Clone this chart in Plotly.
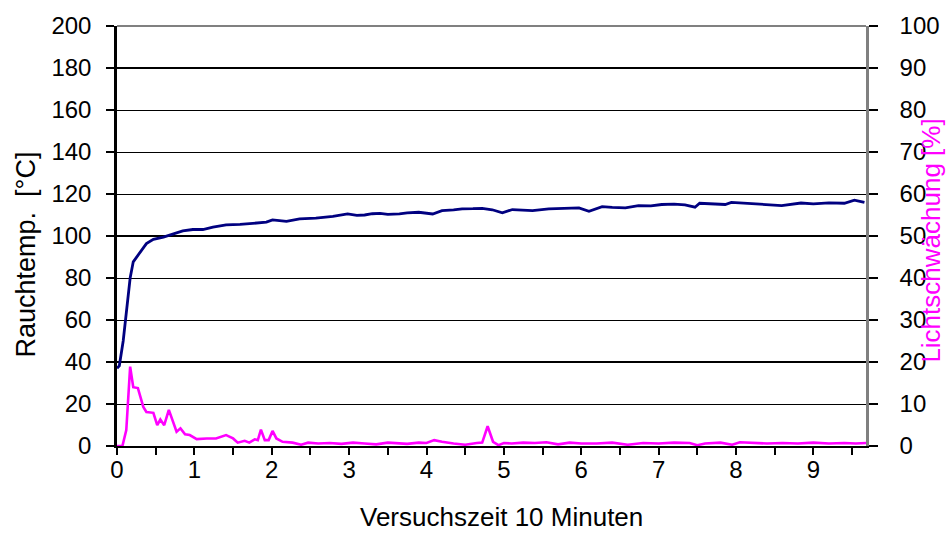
import plotly.graph_objects as go

# ---- data ----
t_temp = [0.0, 0.03, 0.08, 0.125, 0.17, 0.21, 0.30, 0.38, 0.47, 0.60, 0.73, 0.85, 0.98,
          1.11, 1.24, 1.41, 1.59, 1.80, 1.93, 2.01, 2.19, 2.36, 2.57, 2.79, 2.98, 3.1,
          3.2, 3.3, 3.4, 3.5, 3.65, 3.75, 3.9, 4.08, 4.2, 4.35, 4.46, 4.6, 4.72, 4.85,
          4.98, 5.11, 5.25, 5.37, 5.58, 5.8, 5.97, 6.1, 6.27, 6.4, 6.57, 6.74, 6.9,
          7.04, 7.2, 7.34, 7.47, 7.53, 7.86, 7.94, 8.1, 8.29, 8.45, 8.59, 8.84, 9.0,
          9.2, 9.40, 9.53, 9.66]
temp = [37.0, 38.2, 50.0, 65.7, 80.0, 87.7, 92.5, 96.4, 98.4, 99.5, 101.0, 102.4, 103.1,
        103.1, 104.2, 105.3, 105.5, 106.3, 106.6, 107.7, 107.0, 108.2, 108.5, 109.3, 110.5, 109.8,
        110.0, 110.6, 110.8, 110.3, 110.5, 111.0, 111.3, 110.5, 112.1, 112.4, 112.9, 113.0, 113.2, 112.5,
        111.0, 112.6, 112.4, 112.1, 112.9, 113.2, 113.4, 111.8, 114.0, 113.6, 113.4, 114.5, 114.3,
        115.0, 115.2, 114.8, 113.7, 115.6, 115.0, 116.0, 115.6, 115.2, 115.0, 114.5, 115.7, 115.3,
        115.8, 115.6, 117.1, 116.0]

t_ls = [0, 0.07, 0.12, 0.17, 0.21, 0.27, 0.34, 0.38, 0.47, 0.52, 0.56, 0.61, 0.67, 0.73,
        0.77, 0.82, 0.88, 0.94, 1.03, 1.16, 1.28, 1.41, 1.50, 1.56, 1.65, 1.71, 1.78, 1.82,
        1.86, 1.91, 1.96, 2.01, 2.06, 2.14, 2.27, 2.38, 2.47, 2.6, 2.75, 2.9, 3.05, 3.2,
        3.35, 3.5, 3.6, 3.75, 3.9, 4.0, 4.1, 4.2, 4.35, 4.5, 4.65, 4.72, 4.79, 4.86, 4.93,
        5.0, 5.1, 5.25, 5.4, 5.55, 5.7, 5.85, 6.0, 6.2, 6.4, 6.6, 6.8, 7.0, 7.2, 7.4, 7.5,
        7.6, 7.8, 7.95, 8.05, 8.2, 8.4, 8.6, 8.8, 9.0, 9.2, 9.4, 9.55, 9.68]
licht = [0, 0, 3.8, 18.9, 14, 13.8, 9.3, 8.1, 7.9, 4.95, 6.3, 4.95, 8.6, 5.3,
         3.4, 4.2, 2.8, 2.6, 1.65, 1.8, 1.8, 2.6, 1.8, 0.8, 1.25, 0.8, 1.6, 1.4,
         3.9, 1.4, 1.4, 3.6, 1.8, 1.0, 0.8, 0.3, 0.8, 0.6, 0.7, 0.5, 0.8, 0.6,
         0.4, 0.8, 0.7, 0.5, 0.8, 0.7, 1.4, 1.0, 0.6, 0.3, 0.7, 0.8, 4.7, 1.0, 0.2,
         0.7, 0.6, 0.8, 0.7, 0.9, 0.4, 0.8, 0.6, 0.6, 0.8, 0.3, 0.7, 0.6, 0.8, 0.7, 0.2,
         0.6, 0.8, 0.3, 0.9, 0.8, 0.6, 0.7, 0.6, 0.8, 0.6, 0.7, 0.6, 0.7]

x_max = 9.68
thick_grid = [40, 100, 180]

FONT = "Liberation Sans, Arial, sans-serif"
FS = 24

fig = go.Figure()
fig.add_trace(go.Scatter(x=t_temp, y=temp, mode="lines", yaxis="y",
                         line=dict(color="#000080", width=2.8), showlegend=False))
fig.add_trace(go.Scatter(x=t_ls, y=licht, mode="lines", yaxis="y2",
                         line=dict(color="#FF00FF", width=2.6), showlegend=False))

for g in thick_grid:
    fig.add_hline(y=g, line=dict(color="black", width=2.2), layer="below")

fig.add_shape(type="line", xref="paper", yref="paper", x0=0, x1=1, y0=1, y1=1,
              line=dict(color="#808080", width=2))

fig.update_layout(
    width=952, height=533,
    margin=dict(l=117, r=84, t=22, b=87),
    paper_bgcolor="white", plot_bgcolor="white",
    font=dict(family=FONT, size=FS, color="black"),
    xaxis=dict(range=[0, x_max], tickmode="linear", tick0=0, dtick=1,
               ticks="outside", ticklen=7, tickwidth=2, tickcolor="black",
               minor=dict(ticks="outside", dtick=0.5, tick0=0, ticklen=7, tickwidth=1.5,
                          tickcolor="black", showgrid=False),
               showline=True, linecolor="black", linewidth=2, showgrid=False,
               zeroline=False, tickfont=dict(size=FS), ticklabelstandoff=-6),
    yaxis=dict(range=[0, 200], dtick=20, ticks="outside", ticklen=8, tickwidth=1.5,
               tickcolor="black", showline=True, linecolor="black", linewidth=2.5,
               showgrid=True, gridcolor="black", gridwidth=1, zeroline=False,
               tickfont=dict(size=FS), ticklabelstandoff=10),
    yaxis2=dict(range=[0, 100], dtick=10, overlaying="y", side="right",
                ticks="outside", ticklen=9, tickwidth=1.5, tickcolor="black",
                showline=True, linecolor="#808080", linewidth=2.5, showgrid=False,
                zeroline=False, tickfont=dict(size=FS), ticklabelstandoff=17),
    annotations=[
        dict(text="Versuchszeit 10 Minuten", xref="paper", yref="paper",
             x=0.513, y=-0.17, xanchor="center", yanchor="middle", showarrow=False,
             font=dict(size=26, color="black")),
        dict(text="Rauchtemp.  [°C]", xref="paper", yref="paper",
             x=0, y=0.456, xanchor="center", yanchor="middle", textangle=-90,
             showarrow=False, xshift=-91, font=dict(size=27, color="black")),
        dict(text="Lichtschwächung [%]", xref="paper", yref="paper",
             x=1.0, y=0.489, xanchor="center", yanchor="middle", textangle=-90,
             showarrow=False, xshift=65, font=dict(size=26, color="#FF00FF")),
    ],
)

fig.write_html("out.html", config={"displayModeBar": False})

# remove the default page margin so the figure sits at the window's top-left corner
with open("out.html", "r", encoding="utf-8") as f:
    html = f.read()
html = html.replace("<head>", "<head><style>html,body{margin:0;padding:0;overflow:hidden;}</style>", 1)
with open("out.html", "w", encoding="utf-8") as f:
    f.write(html)
